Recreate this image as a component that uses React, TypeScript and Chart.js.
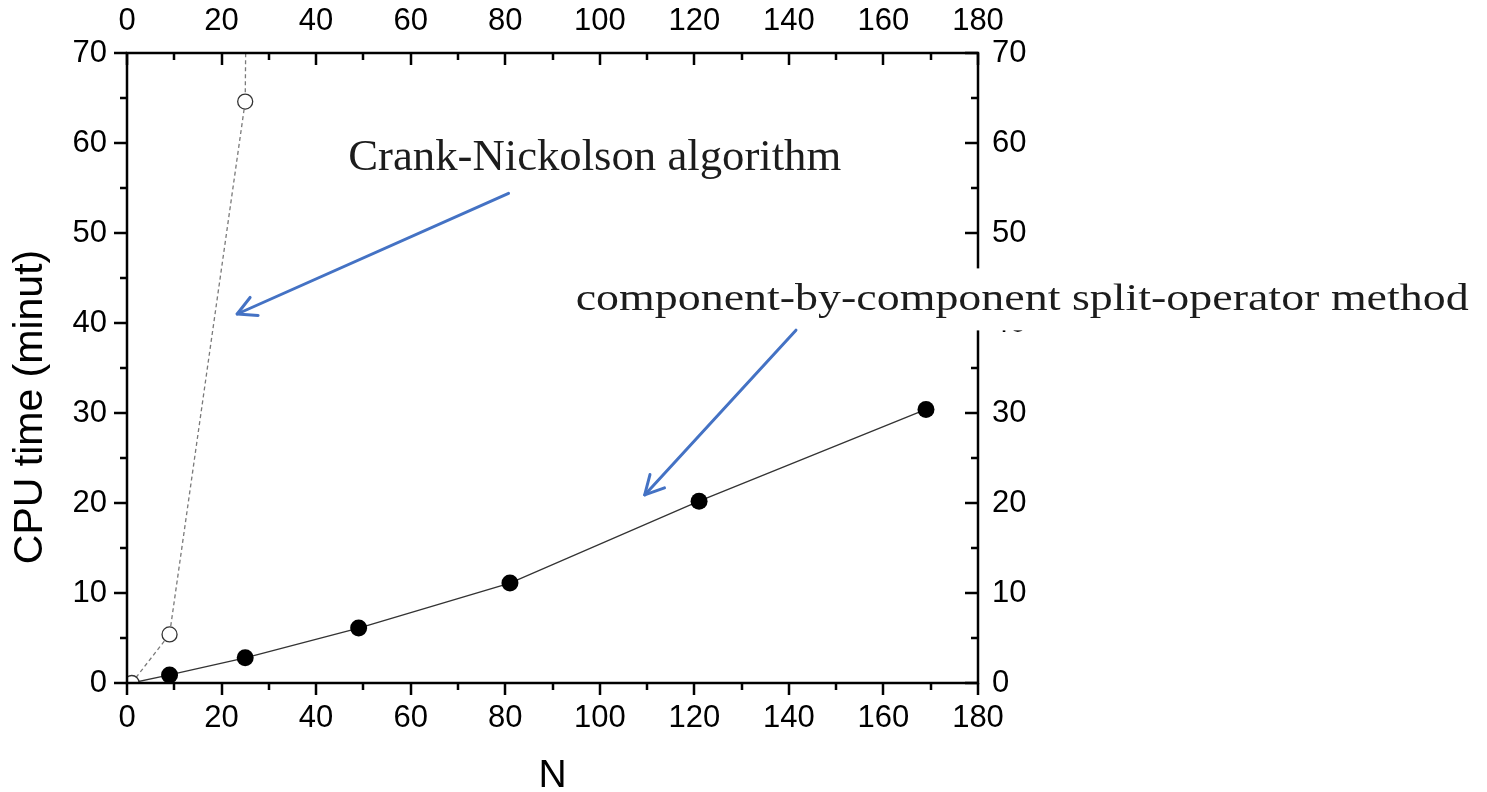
import React, { useEffect, useRef } from "react";
import { Chart, registerables } from "chart.js";

Chart.register(...registerables);

// ---- data ----
const splitN = [1, 9, 25, 49, 81, 121, 169];
const splitTimes = [0, 0.9, 2.8, 6.1, 11.1, 20.2, 30.4];
const crankN = [1, 9, 25, 49];
const crankTimes = [0, 5.4, 64.6, 1400];

const xMin = 0;
const xMax = 180;
const xMajorStep = 20;
const xMinorStep = 10;
const yMin = 0;
const yMax = 70;
const yMajorStep = 10;
const yMinorStep = 5;

const xTitle = "N";
const yTitle = "CPU time (minut)";
const crankLabel = "Crank-Nickolson algorithm";
const splitLabel = "component-by-component split-operator method";

// annotation anchors in data units
const crankLabelAt = { x: 46.8, y: 57.0 };
const splitLabelAt = { x: 94.9, y: 41.4 };
const crankArrow = { from: { x: 80.7, y: 54.4 }, to: { x: 23.3, y: 41.0 } };
const splitArrow = { from: { x: 141.5, y: 39.2 }, to: { x: 109.5, y: 20.9 } };

const SANS = "'Liberation Sans', Arial, sans-serif";
const SERIF = "'Liberation Serif', 'Times New Roman', serif";
const ARROW_BLUE = "#4472C4";

function drawFitted(ctx: CanvasRenderingContext2D, text: string, x: number, y: number, width: number, font: string) {
  ctx.font = font;
  const w = ctx.measureText(text).width;
  ctx.save();
  ctx.translate(x, y);
  ctx.scale(width / w, 1);
  ctx.textAlign = "left";
  ctx.textBaseline = "alphabetic";
  ctx.fillText(text, 0, 0);
  ctx.restore();
}

function drawArrow(ctx: CanvasRenderingContext2D, x1: number, y1: number, x2: number, y2: number) {
  ctx.save();
  ctx.strokeStyle = ARROW_BLUE;
  ctx.lineWidth = 3;
  ctx.lineCap = "round";
  ctx.lineJoin = "round";
  ctx.beginPath();
  ctx.moveTo(x1, y1);
  ctx.lineTo(x2, y2);
  ctx.stroke();
  const ang = Math.atan2(y1 - y2, x1 - x2);
  const len = 21;
  const spread = (28 * Math.PI) / 180;
  ctx.beginPath();
  ctx.moveTo(x2 + len * Math.cos(ang - spread), y2 + len * Math.sin(ang - spread));
  ctx.lineTo(x2, y2);
  ctx.lineTo(x2 + len * Math.cos(ang + spread), y2 + len * Math.sin(ang + spread));
  ctx.stroke();
  ctx.restore();
}

const framePlugin = {
  id: "frameTicks",
  afterDatasetsDraw(chart: any) {
    const ctx: CanvasRenderingContext2D = chart.ctx;
    const { left, right, top, bottom } = chart.chartArea;
    const xs = chart.scales.x;
    const ys = chart.scales.y;
    ctx.save();
    ctx.strokeStyle = "#000";
    ctx.lineWidth = 2.5;
    ctx.beginPath();
    for (let v = xMin; v <= xMax; v += xMinorStep) {
      const px = Math.round(xs.getPixelForValue(v));
      const len = v % xMajorStep === 0 ? 12 : 7;
      ctx.moveTo(px, bottom);
      ctx.lineTo(px, bottom + len);
      ctx.moveTo(px, top);
      ctx.lineTo(px, top + len);
    }
    for (let v = yMin; v <= yMax; v += yMinorStep) {
      const py = Math.round(ys.getPixelForValue(v));
      const len = v % yMajorStep === 0 ? 13 : 7;
      ctx.moveTo(left, py);
      ctx.lineTo(left - len, py);
      ctx.moveTo(right, py);
      ctx.lineTo(right - len, py);
    }
    ctx.stroke();
    ctx.strokeRect(left, top, right - left, bottom - top);
    ctx.restore();
  },
  afterDraw(chart: any) {
    const ctx: CanvasRenderingContext2D = chart.ctx;
    const xs = chart.scales.x;
    const ys = chart.scales.y;
    const X = (v: number) => xs.getPixelForValue(v);
    const Y = (v: number) => ys.getPixelForValue(v);
    ctx.save();
    // y axis title
    ctx.fillStyle = "#000";
    ctx.font = `41px ${SANS}`;
    ctx.translate(31, 407);
    ctx.rotate(-Math.PI / 2);
    ctx.textAlign = "center";
    ctx.textBaseline = "middle";
    ctx.fillText(yTitle, 0, 0);
    ctx.restore();

    ctx.save();
    // split-operator label with white backing
    const sx = X(splitLabelAt.x);
    const sy = Y(splitLabelAt.y);
    ctx.fillStyle = "#fff";
    ctx.fillRect(sx - 10, sy - 42, 910, 62);
    ctx.fillStyle = "#1c1c1c";
    drawFitted(ctx, splitLabel, sx, sy, 893, `38px ${SERIF}`);
    // crank label
    drawFitted(ctx, crankLabel, X(crankLabelAt.x), Y(crankLabelAt.y), 493, `44px ${SERIF}`);
    ctx.restore();

    drawArrow(ctx, X(crankArrow.from.x), Y(crankArrow.from.y), X(crankArrow.to.x), Y(crankArrow.to.y));
    drawArrow(ctx, X(splitArrow.from.x), Y(splitArrow.from.y), X(splitArrow.to.x), Y(splitArrow.to.y));
  },
};

export default function App() {
  const canvasRef = useRef<HTMLCanvasElement | null>(null);

  useEffect(() => {
    const canvas = canvasRef.current;
    if (!canvas) return;
    const tickFont = { family: SANS, size: 31 };
    const chart = new Chart(canvas, {
      type: "line",
      data: {
        datasets: [
          {
            label: "Crank-Nickolson",
            data: crankN.map((n, i) => ({ x: n, y: crankTimes[i] })),
            borderColor: "#7a7a7a",
            borderWidth: 1.3,
            borderDash: [4, 3],
            pointRadius: 7.5,
            pointBackgroundColor: "#ffffff",
            pointBorderColor: "#333333",
            pointBorderWidth: 1.3,
            tension: 0,
            xAxisID: "x",
            yAxisID: "y",
          },
          {
            label: "split-operator",
            data: splitN.map((n, i) => ({ x: n, y: splitTimes[i] })),
            borderColor: "#333333",
            borderWidth: 1.3,
            pointRadius: splitN.map((_, i) => (i === 0 ? 0 : 8.5)),
            pointBackgroundColor: "#000000",
            pointBorderColor: "#000000",
            pointBorderWidth: 0,
            tension: 0,
            xAxisID: "x",
            yAxisID: "y",
          },
        ],
      },
      options: {
        responsive: false,
        animation: false,
        devicePixelRatio: 1,
        layout: { padding: 0 },
        plugins: { legend: { display: false }, tooltip: { enabled: false } },
        scales: {
          x: {
            type: "linear",
            position: "bottom",
            min: xMin,
            max: xMax,
            grid: { display: false, drawTicks: false },
            border: { display: false },
            ticks: { stepSize: xMajorStep, font: tickFont, color: "#000", padding: 17, maxRotation: 0 },
            title: {
              display: true,
              text: xTitle,
              font: { family: SANS, size: 39, lineHeight: 0.8 },
              color: "#000",
              padding: 0,
            },
            afterFit: (s: any) => {
              s.height = 109;
            },
          },
          x2: {
            type: "linear",
            position: "top",
            min: xMin,
            max: xMax,
            grid: { display: false, drawTicks: false },
            border: { display: false },
            ticks: { stepSize: xMajorStep, font: tickFont, color: "#000", padding: 13, maxRotation: 0 },
            afterFit: (s: any) => {
              s.height = 53;
            },
          },
          y: {
            type: "linear",
            position: "left",
            min: yMin,
            max: yMax,
            grid: { display: false, drawTicks: false },
            border: { display: false },
            ticks: { stepSize: yMajorStep, font: tickFont, color: "#000", padding: 20 },
            afterFit: (s: any) => {
              s.width = 127;
            },
          },
          y2: {
            type: "linear",
            position: "right",
            min: yMin,
            max: yMax,
            grid: { display: false, drawTicks: false },
            border: { display: false },
            ticks: { stepSize: yMajorStep, font: tickFont, color: "#000", padding: 14 },
            afterFit: (s: any) => {
              s.width = 509;
            },
          },
        },
      },
      plugins: [framePlugin],
    });
    return () => chart.destroy();
  }, []);

  return (
    <div style={{ position: "fixed", left: 0, top: 0, width: 1487, height: 792, background: "#fff" }}>
      <canvas ref={canvasRef} width={1487} height={792} style={{ display: "block" }} />
    </div>
  );
}
